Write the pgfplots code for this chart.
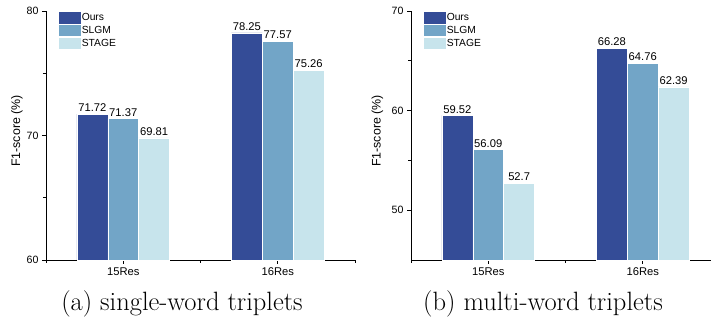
\documentclass[border=0pt]{standalone}
\usepackage{fontspec}
\setsansfont{Liberation Sans}
\usepackage{pgfplots}
\pgfplotsset{compat=1.18}
\definecolor{cOurs}{RGB}{52,76,151}
\definecolor{cSLGM}{RGB}{114,165,199}
\definecolor{cSTAGE}{RGB}{199,228,236}
\newcommand{\sfsize}[1]{\fontsize{#1}{1.15\dimexpr#1\relax}\selectfont\sffamily}
\pgfplotsset{
  myleg/.style={legend image code/.code={\fill[##1] (0bp,-6.2bp) rectangle (23bp,6.2bp);}},
  mybars/.style={
    scale only axis, width=309bp, height=249bp,
    ybar, bar width=0.2,
    xmin=-0.5, xmax=1.5,
    xtick={0,1}, xticklabels={15Res,16Res},
    minor xtick={-0.5,0.5,1.5},
    axis x line*=bottom, axis y line*=left,
    tick align=outside,
    major tick length=4bp, minor tick length=3bp,
    every tick/.style={black, line width=0.8bp},
    axis line style={black, line width=0.8bp},
    /pgf/number format/assume math mode=true,
    yticklabel style={font=\sfsize{10.6bp}},
    xticklabel style={font=\sfsize{11.2bp}},
    ylabel={F1-score (\%)},
    nodes near coords,
    nodes near coords style={font=\sfsize{11.2bp}, anchor=south, inner sep=2bp},
    legend style={draw=none, fill=none, at={(rel axis cs:0.039,1)}, anchor=north west,
      font=\sfsize{10.3bp}, row sep=0pt, inner sep=0pt, nodes={inner sep=0pt},
      /tikz/every even column/.append style={column sep=3bp}},
    legend cell align=left,
    clip=false,
  }
}
\begin{document}
\begin{tikzpicture}
\useasboundingbox (0,0) rectangle (711bp,320bp);
\begin{axis}[mybars, at={(46bp,60bp)}, anchor=south west,
  ymin=60, ymax=80, ytick={60,70,80}, minor ytick={65,75},
  every axis y label/.style={at={(rel axis cs:0,0.518)}, xshift=-29bp, rotate=90, anchor=center, font=\sfsize{12.4bp}}]
\addplot[fill=cOurs, draw=white, line width=0.5bp, bar shift=-0.2, myleg] coordinates {(0,71.72) (1,78.25)};
\addplot[fill=cSLGM, draw=white, line width=0.5bp, bar shift=0, myleg] coordinates {(0,71.37) (1,77.57)};
\addplot[fill=cSTAGE, draw=white, line width=0.5bp, bar shift=0.2, myleg] coordinates {(0,69.81) (1,75.26)};
\legend{Ours,SLGM,STAGE}
\end{axis}
\begin{axis}[mybars, at={(411bp,60bp)}, anchor=south west,
  ymin=45, ymax=70, ytick={50,60,70}, minor ytick={55,65},
  every axis y label/.style={at={(rel axis cs:0,0.518)}, xshift=-33.5bp, rotate=90, anchor=center, font=\sfsize{12.4bp}}]
\addplot[fill=cOurs, draw=white, line width=0.5bp, bar shift=-0.2, myleg] coordinates {(0,59.52) (1,66.28)};
\addplot[fill=cSLGM, draw=white, line width=0.5bp, bar shift=0, myleg] coordinates {(0,56.09) (1,64.76)};
\addplot[fill=cSTAGE, draw=white, line width=0.5bp, bar shift=0.2, myleg] coordinates {(0,52.7) (1,62.39)};
\legend{Ours,SLGM,STAGE}
\end{axis}
\node[font=\fontsize{26.5bp}{30bp}\selectfont] at (182bp,16bp) {(a) single-word triplets};
\node[font=\fontsize{26.5bp}{30bp}\selectfont] at (543bp,16bp) {(b) multi-word triplets};
\end{tikzpicture}
\end{document}
